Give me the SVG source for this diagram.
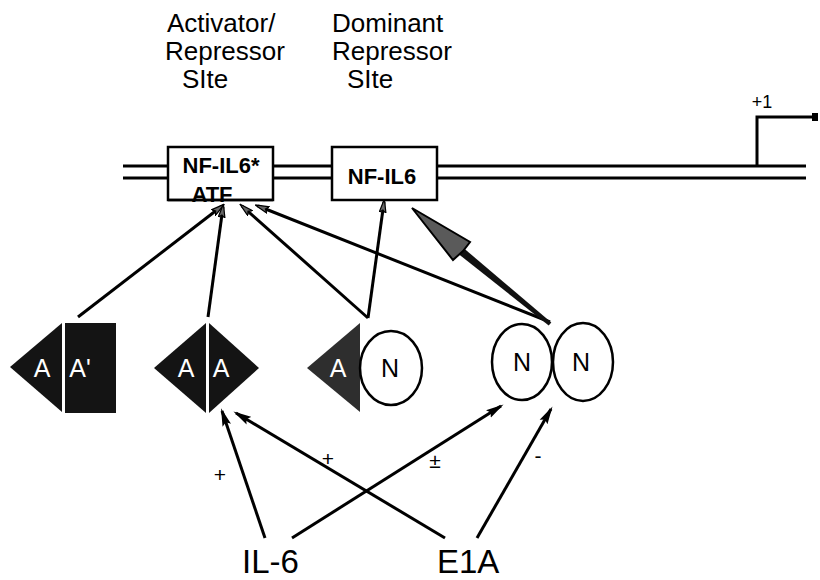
<svg xmlns="http://www.w3.org/2000/svg" width="820" height="580" viewBox="0 0 820 580">
  <style>
    .lbl { font-family: "Liberation Sans", Arial, sans-serif; font-size: 26px; fill: #000; }
    .box { fill: #fff; stroke: #000; stroke-width: 2.5; }
    .boxtxt { font-family: "Liberation Sans", Arial, sans-serif; font-weight: bold; font-size: 22px; fill: #000; text-anchor: middle; }
    .dna { stroke: #000; stroke-width: 3; fill: none; }
    .conn { stroke: #000; stroke-width: 3; fill: none; }
    .up { marker-end: url(#hatchHead); }
    .low { marker-end: url(#solidHead); }
    .dark { fill: #141414; }
    .grey { fill: #2e2e2e; }
    .oval { fill: #fff; stroke: #000; stroke-width: 2.5; }
    .wtxt { font-family: "Liberation Sans", Arial, sans-serif; font-size: 25px; fill: #fff; text-anchor: middle; }
    .ntxt { font-family: "Liberation Sans", Arial, sans-serif; font-size: 25px; fill: #000; text-anchor: middle; }
    .sign { font-family: "Liberation Sans", Arial, sans-serif; font-size: 21px; fill: #000; text-anchor: middle; }
    .big { font-family: "Liberation Sans", Arial, sans-serif; font-size: 33px; fill: #000; }
  </style>
  <defs>
    <marker id="hatchHead" viewBox="0 0 14 8" refX="11" refY="4" markerWidth="14" markerHeight="8" markerUnits="userSpaceOnUse" orient="auto">
      <path d="M0,0.5 L14,4 L0,7.5 L3,4 Z" fill="#666" stroke="#000" stroke-width="1.2"/>
    </marker>
    <marker id="solidHead" viewBox="0 0 18 10" refX="15" refY="5" markerWidth="18" markerHeight="10" markerUnits="userSpaceOnUse" orient="auto">
      <path d="M0,0.5 L18,5 L0,9.5 L3,5 Z" fill="#000"/>
    </marker>
  </defs>

  <!-- site headings -->
  <g id="headings">
    <text class="lbl" x="167" y="32">Activator/</text>
    <text class="lbl" x="165" y="60">Repressor</text>
    <text class="lbl" x="182" y="88">SIte</text>
    <text class="lbl" x="332" y="32">Dominant</text>
    <text class="lbl" x="332" y="60">Repressor</text>
    <text class="lbl" x="347" y="88">SIte</text>
  </g>

  <!-- promoter DNA strands and transcription start -->
  <g id="dna">
    <line class="dna" x1="123" y1="166" x2="806" y2="166"/>
    <line class="dna" x1="123" y1="178" x2="806" y2="178"/>
    <polyline class="dna" points="757,166 757,117 815,117"/>
    <rect x="812" y="113" width="6" height="8" fill="#000"/>
    <text class="sign" x="762" y="108" style="font-size:18px">+1</text>
  </g>

  <g id="site-atf">
    <rect class="box" x="168" y="147" width="105" height="53"/>
    <text class="boxtxt" x="221" y="173">NF-IL6*</text>
    <text class="boxtxt" x="212" y="202">ATF</text>
    <line x1="168" y1="200" x2="273" y2="200" stroke="#000" stroke-width="2.5"/>
  </g>

  <g id="site-nfil6">
    <rect class="box" x="332" y="147" width="105" height="53"/>
    <text class="boxtxt" x="382" y="184">NF-IL6</text>
  </g>

  <!-- dimer A / A' -->
  <g id="dimer-aa-prime">
    <polygon class="dark" points="10,367 62,323 62,412"/>
    <rect class="dark" x="65" y="323" width="51" height="90"/>
    <text class="wtxt" x="42" y="377">A</text>
    <text class="wtxt" x="80" y="377">A'</text>
  </g>

  <!-- dimer A / A -->
  <g id="dimer-aa">
    <polygon class="dark" points="154,368 206,323 206,413"/>
    <polygon class="dark" points="209,323 259,368 209,413"/>
    <text class="wtxt" x="186" y="377">A</text>
    <text class="wtxt" x="221" y="377">A</text>
  </g>

  <!-- heterodimer A / N -->
  <g id="dimer-an">
    <polygon class="grey" points="307,368 360,323 360,412"/>
    <text class="wtxt" x="338" y="377">A</text>
    <ellipse class="oval" cx="391" cy="368" rx="31" ry="37"/>
    <text class="ntxt" x="390" y="377">N</text>
  </g>

  <!-- dimer N / N -->
  <g id="dimer-nn">
    <ellipse class="oval" cx="522" cy="362" rx="30" ry="38"/>
    <ellipse class="oval" cx="583" cy="362" rx="30" ry="39"/>
    <text class="ntxt" x="522" y="371">N</text>
    <text class="ntxt" x="581" y="371">N</text>
  </g>

  <!-- inducers -->
  <g id="il6">
    <text class="big" x="242" y="573">IL-6</text>
  </g>
  <g id="e1a">
    <text class="big" x="437" y="573">E1A</text>
  </g>

  <g id="connectors">
    <!-- dimers binding to promoter sites -->
    <line class="conn up" x1="78" y1="317" x2="222" y2="206"/>
    <line class="conn up" x1="208" y1="317" x2="223" y2="207"/>
    <line class="conn up" x1="368" y1="318" x2="242" y2="206"/>
    <line class="conn up" x1="550" y1="322" x2="258" y2="206"/>
    <line class="conn up" x1="368" y1="318" x2="384" y2="202"/>
    <!-- dominant N/N binding -->
    <polygon points="458.5,254 463.5,248 551.3,322.5 548.7,325.5" fill="#111"/>
    <polygon points="412,208 470,242 463,251 453,260" fill="#5a5a5a" stroke="#000" stroke-width="2" stroke-linejoin="miter"/>
    <!-- regulation by inducers -->
    <line class="conn low" x1="265" y1="538" x2="222" y2="411"/>
    <line class="conn low" x1="445" y1="538" x2="236" y2="413"/>
    <line class="conn low" x1="292" y1="538" x2="501" y2="406"/>
    <line class="conn low" x1="477" y1="538" x2="551" y2="409"/>
  </g>

  <g id="signs">
    <text class="sign" x="220" y="482">+</text>
    <text class="sign" x="328" y="466">+</text>
    <text class="sign" x="435" y="468">±</text>
    <text class="sign" x="538" y="463">-</text>
  </g>
</svg>
